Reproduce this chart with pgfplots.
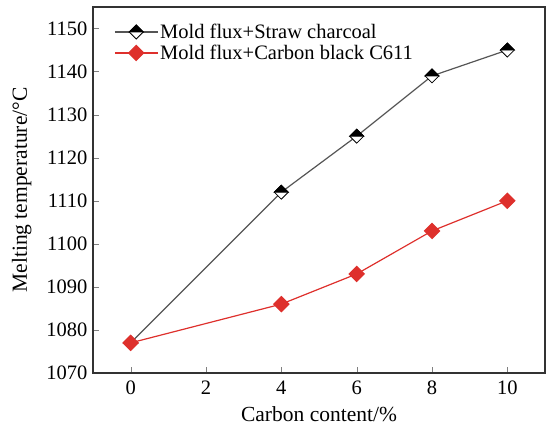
\documentclass[border=0pt]{standalone}
\usepackage{fontspec}
\setmainfont{Liberation Serif}
\usepackage{pgfplots}
\pgfplotsset{compat=1.18}
\definecolor{lred}{RGB}{222,48,44}
\definecolor{lgray}{RGB}{85,85,85}

% diamond, top half black, bottom half white
\pgfdeclareplotmark{halfdiamond}{%
  \pgfpathmoveto{\pgfqpoint{-\pgfplotmarksize}{0pt}}%
  \pgfpathlineto{\pgfqpoint{0pt}{\pgfplotmarksize}}%
  \pgfpathlineto{\pgfqpoint{\pgfplotmarksize}{0pt}}%
  \pgfpathlineto{\pgfqpoint{0pt}{-\pgfplotmarksize}}%
  \pgfpathclose
  \pgfsetfillcolor{white}\pgfusepath{fill,stroke}%
  \pgfpathmoveto{\pgfqpoint{-\pgfplotmarksize}{0pt}}%
  \pgfpathlineto{\pgfqpoint{0pt}{\pgfplotmarksize}}%
  \pgfpathlineto{\pgfqpoint{\pgfplotmarksize}{0pt}}%
  \pgfpathclose
  \pgfsetfillcolor{black}\pgfusepath{fill,stroke}%
}

\begin{document}
\begin{tikzpicture}
\begin{axis}[
  name=ax,
  scale only axis,
  width=452pt, height=366pt,
  xmin=-1, xmax=11, ymin=1070, ymax=1155,
  xtick={0,2,4,6,8,10},
  ytick={1070,1080,...,1150},
  tick align=inside,
  tick pos=left,
  major tick length=6pt,
  axis line style={line width=1.2pt, black!80},
  /pgf/number format/assume math mode=true,
  /pgf/number format/set thousands separator={},
  tick label style={font=\fontsize{20.5}{24}\selectfont},
  xticklabel style={yshift=-4pt},
  yticklabel style={xshift=-2pt},
  label style={font=\fontsize{21.5}{25}\selectfont},
  xlabel={Carbon content/\%},
  xlabel style={yshift=-5pt},
  ylabel={Melting temperature/\textdegree C},
  ylabel style={yshift=8pt},
  legend style={at={(0.04,0.965)}, anchor=north west, draw=none, fill=none,
    font=\fontsize{20.5}{24}\selectfont, row sep=1pt},
  legend cell align=left,
  legend image code/.code={
    \draw[#1, mark repeat=2, mark phase=2] plot coordinates {(0cm,0cm) (0.75cm,0cm) (1.5cm,0cm)};
  },
]
\addplot[color=lgray, line width=1.2pt, mark=halfdiamond, mark size=7pt,
  mark options={draw=black, line width=0.8pt}]
  coordinates {(0,1077) (4,1112) (6,1125) (8,1139) (10,1145)};
\addlegendentry{Mold flux+Straw charcoal}
\addplot[color=lred, line width=1.2pt, mark=square*, mark size=5.3pt,
  mark options={fill=lred, draw=lred, rotate=45}]
  coordinates {(0,1077) (4,1086) (6,1093) (8,1103) (10,1110)};
\addlegendentry{Mold flux+Carbon black C611}
\end{axis}
\pgfresetboundingbox
\path ([shift={(-93pt,-61pt)}]ax.south west) rectangle ([shift={(3pt,7pt)}]ax.north east);
\end{tikzpicture}
\end{document}
